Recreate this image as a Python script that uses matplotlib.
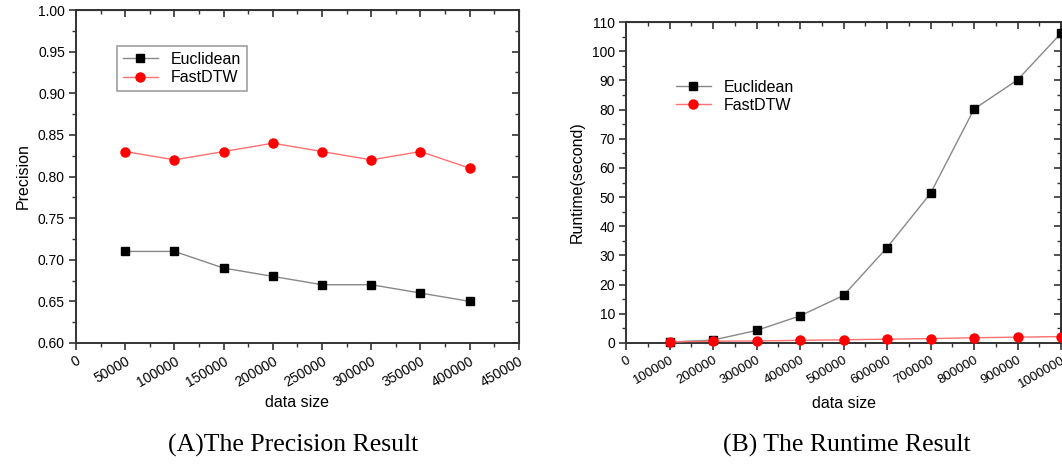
import numpy as np
import matplotlib.pyplot as plt
from matplotlib.ticker import MultipleLocator, FormatStrFormatter

plt.rcParams['font.family'] = ['Liberation Sans', 'DejaVu Sans']

# (A) precision data
prec_size = [50000, 100000, 150000, 200000, 250000, 300000, 350000, 400000]
prec_euclid = [0.71, 0.71, 0.69, 0.68, 0.67, 0.67, 0.66, 0.65]
prec_fastdtw = [0.83, 0.82, 0.83, 0.84, 0.83, 0.82, 0.83, 0.81]

# (B) runtime data
run_size = [100000, 200000, 300000, 400000, 500000, 600000, 700000, 800000, 900000, 1000000]
run_euclid = [0.3, 1.0, 4.3, 9.3, 16.3, 32.7, 51.3, 80.2, 90.2, 106.2]
run_fastdtw = [0.4, 0.6, 0.7, 0.9, 1.1, 1.3, 1.5, 1.8, 2.0, 2.2]

fig = plt.figure(figsize=(10.62, 4.65), dpi=100)
ax1 = fig.add_axes([0.0716, 0.2624, 0.417, 0.716])
ax2 = fig.add_axes([0.5895, 0.2624, 0.4096, 0.690])


def style(ax, xmaj, ymaj, xlabelsize=10):
    ax.xaxis.set_major_locator(MultipleLocator(xmaj))
    ax.xaxis.set_minor_locator(MultipleLocator(xmaj / 2))
    ax.yaxis.set_major_locator(MultipleLocator(ymaj))
    ax.yaxis.set_minor_locator(MultipleLocator(ymaj / 2))
    ax.xaxis.set_major_formatter(FormatStrFormatter('%d'))
    ax.tick_params(which='major', direction='out', length=5, width=1.2, labelsize=10,
                   color='#333333', pad=3)
    ax.tick_params(axis='x', labelsize=xlabelsize)
    ax.tick_params(which='minor', direction='out', length=3, width=1.0, color='#333333')
    for s in ax.spines.values():
        s.set_linewidth(1.4)
        s.set_color('#333333')
    # inward ticks on top and right sides
    top = ax.secondary_xaxis('top')
    top.xaxis.set_major_locator(MultipleLocator(xmaj))
    top.xaxis.set_minor_locator(MultipleLocator(xmaj / 2))
    top.tick_params(which='major', direction='in', length=5, width=1.2, labeltop=False, color='#333333')
    top.tick_params(which='minor', direction='in', length=3, width=1.0, color='#333333')
    right = ax.secondary_yaxis('right')
    right.yaxis.set_major_locator(MultipleLocator(ymaj))
    right.yaxis.set_minor_locator(MultipleLocator(ymaj / 2))
    right.tick_params(which='major', direction='in', length=5, width=1.2, labelright=False, color='#333333')
    right.tick_params(which='minor', direction='in', length=3, width=1.0, color='#333333')
    for lbl in ax.get_xticklabels():
        lbl.set_rotation(30)
        lbl.set_ha('right')
        lbl.set_rotation_mode('anchor')


# Panel A
ax1.plot(prec_size, prec_euclid, color='#888888', lw=1, marker='s', ms=5.5,
         mfc='black', mec='black', label='Euclidean')
ax1.plot(prec_size, prec_fastdtw, color='#ff7070', lw=1, marker='o', ms=6.5,
         mfc='red', mec='red', label='FastDTW')
ax1.set_xlim(0, 450000)
ax1.set_ylim(0.60, 1.00)
style(ax1, 50000, 0.05)
ax1.yaxis.set_major_formatter(FormatStrFormatter('%.2f'))
ax1.set_xlabel('data size', fontsize=11.5, labelpad=4)
ax1.set_ylabel('Precision', fontsize=11.5, labelpad=5)
leg1 = ax1.legend(loc='upper left', bbox_to_anchor=(0.075, 0.915), fontsize=11.5,
                  frameon=True, fancybox=False, edgecolor='#888888',
                  handlelength=2.2, borderpad=0.35, labelspacing=0.2)
leg1.get_frame().set_linewidth(1.2)

# Panel B
ax2.plot(run_size, run_euclid, color='#888888', lw=1, marker='s', ms=5.5,
         mfc='black', mec='black', label='Euclidean', clip_on=False, zorder=5)
ax2.plot(run_size, run_fastdtw, color='#ff7070', lw=1, marker='o', ms=6.5,
         mfc='red', mec='red', label='FastDTW', clip_on=False, zorder=5)
ax2.set_xlim(0, 1000000)
ax2.set_ylim(0, 110)
style(ax2, 100000, 10, xlabelsize=9.5)
ax2.set_xlabel('data size', fontsize=11.5, labelpad=4)
ax2.set_ylabel('Runtime(second)', fontsize=11.5, labelpad=5)
ax2.legend(loc='upper left', bbox_to_anchor=(0.085, 0.86), fontsize=11.5, frameon=False,
           handlelength=2.2, borderpad=0.3, labelspacing=0.2)

# captions
fig.text(293 / 1062, 1 - 445 / 465, '(A)The Precision Result', ha='center', va='center',
         fontsize=18.5, family=['Liberation Serif', 'DejaVu Serif'])
fig.text(847 / 1062, 1 - 445 / 465, '(B) The Runtime Result', ha='center', va='center',
         fontsize=18.5, family=['Liberation Serif', 'DejaVu Serif'])

fig.savefig('out.png', dpi=100)
